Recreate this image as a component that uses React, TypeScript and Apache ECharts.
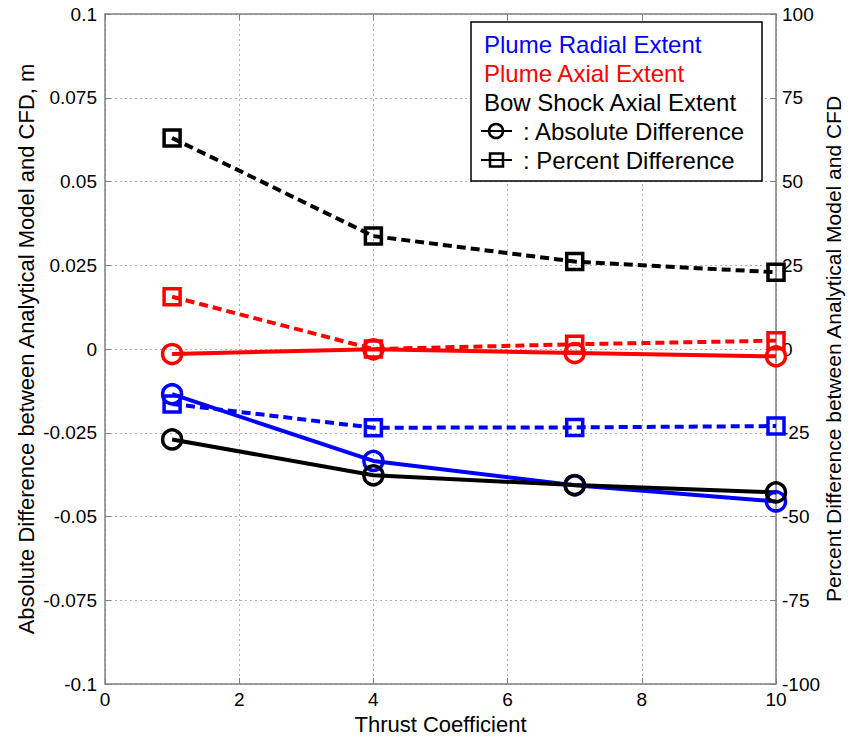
import React, { useEffect, useRef } from "react";
import * as echarts from "echarts";

const thrust = [1, 4, 7, 10];
const radialAbs = [-0.0135, -0.0334, -0.0407, -0.0455];
const axialAbs = [-0.0015, -0.0001, -0.0012, -0.0022];
const bowAbs = [-0.027, -0.0377, -0.0406, -0.0428];
const radialPct = [-16.4, -23.5, -23.4, -23.0];
const axialPct = [15.6, 0.0, 1.4, 2.5];
const bowPct = [63.0, 33.7, 26.1, 22.9];

const legendLines = [
  { text: "Plume Radial Extent", color: "#0000ff" },
  { text: "Plume Axial Extent", color: "#ff0000" },
  { text: "Bow Shock Axial Extent", color: "#000000" },
];

const FONT = "Liberation Sans, Arial, sans-serif";

function pairs(ys: number[]) {
  return thrust.map((x, i) => [x, ys[i]]);
}

export default function App() {
  const ref = useRef<HTMLDivElement>(null);
  useEffect(() => {
    document.body.style.margin = "0";
    const chart = echarts.init(ref.current!, null, { renderer: "svg" });
    const mk = (data: number[], color: string, dashed: boolean, y: number) => ({
      type: "line",
      yAxisIndex: y,
      data: pairs(data),
      symbol: dashed ? "rect" : "circle",
      symbolSize: dashed ? 16 : 19,
      lineStyle: { color, width: 4, type: dashed ? [9, 5] : "solid" },
      itemStyle: { color: "rgba(0,0,0,0)", borderColor: color, borderWidth: 3.5 },
      z: dashed ? 2 : 3,
    });
    const lx = 484;
    const graphics: any[] = [
      {
        type: "rect",
        shape: { x: 471, y: 22, width: 291, height: 159 },
        style: { fill: "#fff", stroke: "#000", lineWidth: 1.5 },
        z: 10,
      },
    ];
    legendLines.forEach((l, i) => {
      graphics.push({
        type: "text",
        x: lx,
        y: 44 + i * 29,
        style: { text: l.text, fill: l.color, font: `24px ${FONT}`, verticalAlign: "middle" },
        z: 11,
      });
    });
    const symRows = [
      { y: 131, text: ": Absolute Difference", circle: true },
      { y: 160, text: ": Percent Difference", circle: false },
    ];
    symRows.forEach((r) => {
      graphics.push({
        type: "line",
        shape: { x1: 481, y1: r.y, x2: 512, y2: r.y },
        style: { stroke: "#000", lineWidth: 2 },
        z: 11,
      });
      if (r.circle) {
        graphics.push({
          type: "circle",
          shape: { cx: 496, cy: r.y, r: 7 },
          style: { fill: "none", stroke: "#000", lineWidth: 2.5 },
          z: 12,
        });
      } else {
        graphics.push({
          type: "rect",
          shape: { x: 490, y: r.y - 6.5, width: 13, height: 13 },
          style: { fill: "none", stroke: "#000", lineWidth: 2.5 },
          z: 12,
        });
      }
      graphics.push({
        type: "text",
        x: 523,
        y: r.y,
        style: { text: r.text, fill: "#000", font: `24px ${FONT}`, verticalAlign: "middle" },
        z: 11,
      });
    });

    const axisLine = { show: true, onZero: false, lineStyle: { color: "#808080", width: 1.5 } };
    const tick = { show: true, inside: true, length: 6, lineStyle: { color: "#808080" } };
    const split = { show: true, lineStyle: { color: "#b0b0b0", type: [2, 3], width: 1 } };
    chart.setOption({
      animation: false,
      backgroundColor: "#fff",
      textStyle: { fontFamily: FONT },
      grid: { left: 105, right: 74, top: 14, bottom: 54, outerBoundsMode: "none", containLabel: false },
      xAxis: [
        {
          type: "value",
          min: 0,
          max: 10,
          interval: 2,
          position: "bottom",
          name: "Thrust Coefficient",
          nameLocation: "middle",
          nameGap: 29,
          nameMoveOverlap: false,
          nameTextStyle: { fontSize: 22, color: "#000", fontFamily: FONT },
          axisLine,
          axisTick: tick,
          splitLine: split,
          axisLabel: { fontSize: 19, color: "#000", margin: 6, fontFamily: FONT },
        },
        {
          type: "value",
          min: 0,
          max: 10,
          interval: 2,
          position: "top",
          axisLine,
          axisTick: tick,
          splitLine: { show: false },
          axisLabel: { show: false },
        },
      ],
      yAxis: [
        {
          type: "value",
          min: -0.1,
          max: 0.1,
          interval: 0.025,
          name: "Absolute Difference between Analytical Model and CFD, m",
          nameLocation: "middle",
          nameGap: 68,
          nameMoveOverlap: false,
          nameTextStyle: { fontSize: 22, color: "#000", fontFamily: FONT },
          axisLine,
          axisTick: tick,
          splitLine: split,
          axisLabel: { fontSize: 19, color: "#000", margin: 8, fontFamily: FONT },
        },
        {
          type: "value",
          min: -100,
          max: 100,
          interval: 25,
          position: "right",
          name: "Percent Difference between Analytical Model and CFD",
          nameLocation: "middle",
          nameGap: 47,
          nameRotate: 90,
          nameMoveOverlap: false,
          nameTextStyle: { fontSize: 21, color: "#000", fontFamily: FONT },
          axisLine,
          axisTick: tick,
          splitLine: { show: false },
          axisLabel: { fontSize: 19, color: "#000", margin: 6, fontFamily: FONT },
        },
      ],
      series: [
        mk(bowPct, "#000000", true, 1),
        mk(axialPct, "#ff0000", true, 1),
        mk(radialPct, "#0000ff", true, 1),
        mk(radialAbs, "#0000ff", false, 0),
        mk(axialAbs, "#ff0000", false, 0),
        mk(bowAbs, "#000000", false, 0),
      ],
      graphic: graphics,
    });
    return () => chart.dispose();
  }, []);
  return <div ref={ref} style={{ width: 850, height: 738 }} />;
}
